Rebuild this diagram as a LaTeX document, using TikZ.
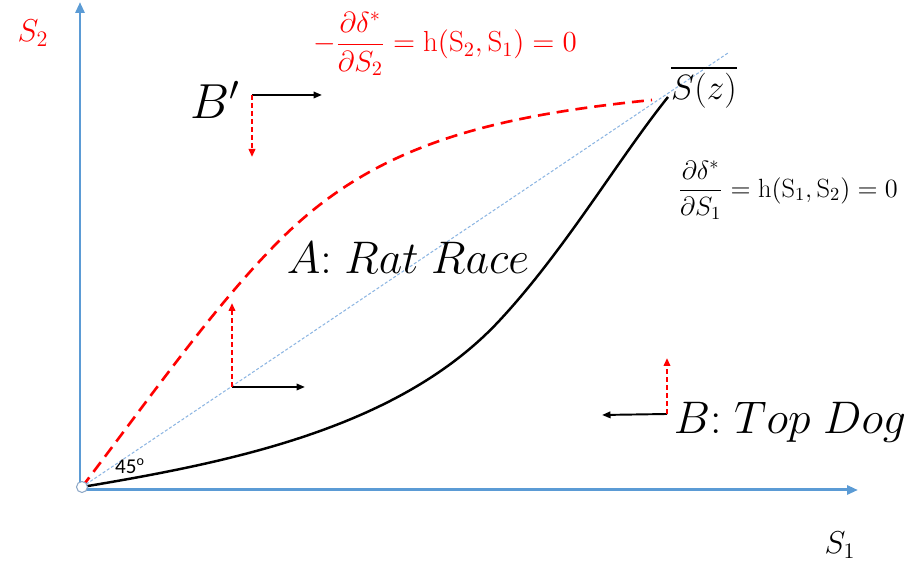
\RequirePackage{fix-cm}
\documentclass[tikz,border=0pt]{standalone}
\usepackage{fontspec}
\usepackage{amsmath}
\newfontfamily\calibri{Carlito}
\usetikzlibrary{arrows.meta}

\definecolor{axisblue}{HTML}{5B9BD5}
\definecolor{diagblue}{HTML}{8DB6E2}
\definecolor{ringgray}{HTML}{8EA9C8}

\begin{document}
\begin{tikzpicture}[
  axis/.style={axisblue, line width=1.7pt, -{Triangle[length=0.22cm, width=0.18cm]}},
  shiftblk/.style={black, line width=1.1pt, -{Triangle[length=0.17cm, width=0.13cm]}},
  shiftred/.style={red, line width=1.3pt, dash pattern=on 0.1cm off 0.06cm,
    -{Triangle[length=0.16cm, width=0.13cm]}},
  big/.style={font=\fontsize{26}{30}\selectfont, inner sep=0pt},
  mid/.style={font=\fontsize{18}{22}\selectfont, inner sep=0pt}
]
  \useasboundingbox (-1.6,-1.58) rectangle (16.64,9.8);

  % axes
  \coordinate (O) at (0,0);
  \coordinate (ytop) at (0,9.76);
  \coordinate (xend) at (15.56,0);
  \draw[axis] (O) -- (ytop);
  \draw[axis] (O) -- (xend);

  % 45 degree line
  \coordinate (o) at (0.04,0.06);
  \coordinate (diag) at (12.96,8.74);
  \draw[diagblue, line width=0.6pt, dash pattern=on 0.06cm off 0.04cm] (o) -- (diag);

  % h(S2,S1)=0
  \coordinate (rmid) at (4.0,5.0);
  \coordinate (rend) at (11.44,7.8);
  \draw[red, line width=1.5pt, dash pattern=on 0.24cm off 0.14cm]
    (o) .. controls (1.44,1.9) and (2.7,3.7) .. (rmid)
        .. controls (5.8,6.8) and (7.94,7.45) .. (rend);
  % h(S1,S2)=0
  \coordinate (bmid) at (8.4,3.4);
  \coordinate (bend) at (11.76,7.86);
  \draw[black, line width=1.4pt]
    (o) .. controls (3.04,0.56) and (6.4,1.24) .. (bmid)
        .. controls (9.7,4.8) and (10.76,6.61) .. (bend);

  \node[circle, draw=ringgray, fill=white, line width=0.6pt, minimum size=0.22cm,
    inner sep=0pt] (ring) at (o) {};

  % labels
  \node[mid, red] (s2) at (-0.94,9.14) {$S_2$};
  \node[mid] (s1) at (15.2,-1.1) {$S_1$};
  \node[font=\calibri\fontsize{12}{14}\selectfont, inner sep=0pt] (deg) at (1.0,0.48)
    {45\textsuperscript{o}};
  \node[red, font=\fontsize{16.5}{20}\selectfont, inner sep=0pt] (hred) at (7.3,8.92)
    {$-\dfrac{\partial\delta^*}{\partial S_2}=\mathrm{h}(\mathrm{S}_2,\mathrm{S}_1)=0$};
  \node[font=\fontsize{15}{18}\selectfont, inner sep=0pt] (hblk) at (14.16,6.0)
    {$\dfrac{\partial\delta^*}{\partial S_1}=\mathrm{h}(\mathrm{S}_1,\mathrm{S}_2)=0$};
  \node[font=\fontsize{20}{24}\selectfont, inner sep=0pt] (sz) at (12.48,8.06) {$\overline{S(z)}$};
  \node[big] (rat) at (6.56,4.64) {$A{:}\;Rat\;Race$};
  \node[big] (top) at (14.2,1.36) {$B{:}\;Top\;Dog$};
  \node[font=\fontsize{28}{32}\selectfont, inner sep=0pt] (bp) at (2.7,7.8) {$B'$};

  % best responses
  \coordinate (c1) at (3.44,7.9);
  \coordinate (c1r) at (4.84,7.9);
  \coordinate (c1d) at (3.44,6.66);
  \draw[shiftblk] (c1) -- (c1r);
  \draw[shiftred] (c1) -- (c1d);

  \coordinate (c2) at (3.04,2.06);
  \coordinate (c2r) at (4.5,2.06);
  \coordinate (c2u) at (3.04,3.74);
  \draw[shiftblk] (c2) -- (c2r);
  \draw[shiftred] (c2) -- (c2u);

  \coordinate (c3) at (11.74,1.52);
  \coordinate (c3l) at (10.44,1.5);
  \coordinate (c3u) at (11.74,2.64);
  \draw[shiftblk] (c3) -- (c3l);
  \draw[shiftred] (c3) -- (c3u);

\end{tikzpicture}
\end{document}
